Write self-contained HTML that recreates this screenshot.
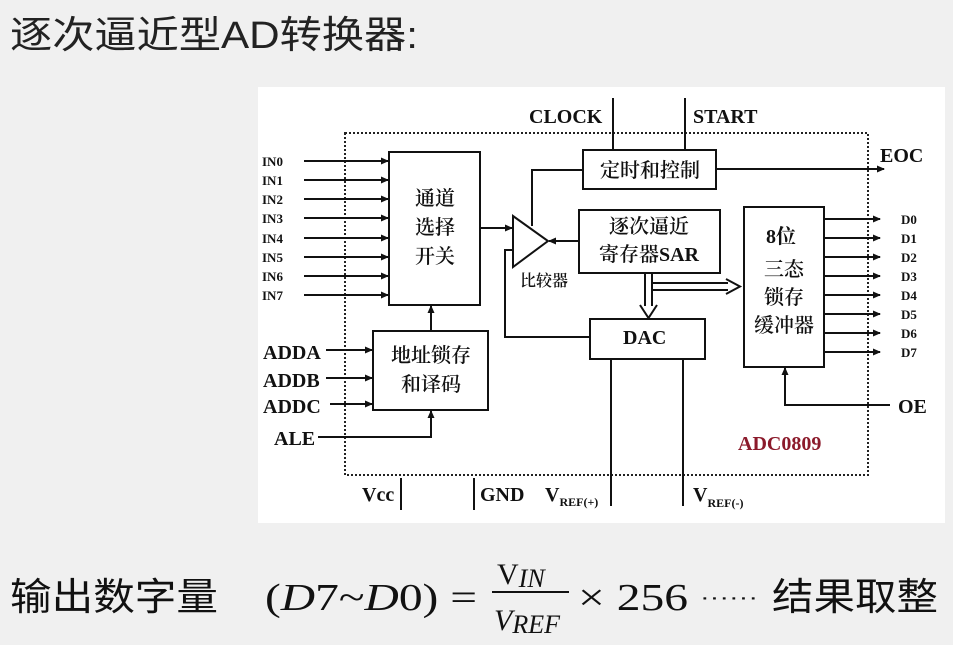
<!DOCTYPE html>
<html><head><meta charset="utf-8"><style>
html,body{margin:0;padding:0;background:#f0f0f0;}
svg{display:block;}
.s{font-family:"Liberation Serif","Noto Serif CJK SC",serif;font-weight:bold;fill:#111;}
.c{font-family:"Liberation Serif","Noto Serif CJK SC",serif;fill:#111;font-weight:600;}
</style></head><body>
<svg width="953" height="645" viewBox="0 0 953 645" xmlns="http://www.w3.org/2000/svg">
<defs>
<marker id="a" markerWidth="8" markerHeight="8" refX="7" refY="4" orient="auto" markerUnits="userSpaceOnUse"><path d="M0,0.5 L8,4 L0,7.5 Z" fill="#111"/></marker>
</defs>
<rect width="953" height="645" fill="#f0f0f0"/>
<text x="10" y="48" font-family="'Liberation Sans','Noto Sans CJK SC',sans-serif" font-size="38" fill="#222" textLength="408" lengthAdjust="spacingAndGlyphs">逐次逼近型AD转换器:</text>
<rect x="258" y="87" width="687" height="436" fill="#fff"/>
<rect x="345" y="133" width="523" height="342" fill="none" stroke="#222" stroke-width="2" stroke-dasharray="2,2"/>
<g stroke="#111" stroke-width="2" fill="none">
<line x1="304" y1="161" x2="388" y2="161" marker-end="url(#a)"/>
<line x1="304" y1="180" x2="388" y2="180" marker-end="url(#a)"/>
<line x1="304" y1="199" x2="388" y2="199" marker-end="url(#a)"/>
<line x1="304" y1="218" x2="388" y2="218" marker-end="url(#a)"/>
<line x1="304" y1="238" x2="388" y2="238" marker-end="url(#a)"/>
<line x1="304" y1="257" x2="388" y2="257" marker-end="url(#a)"/>
<line x1="304" y1="276" x2="388" y2="276" marker-end="url(#a)"/>
<line x1="304" y1="295" x2="388" y2="295" marker-end="url(#a)"/>
<rect x="389" y="152" width="91" height="153"/>
<line x1="480" y1="228" x2="512" y2="228" marker-end="url(#a)"/>
<polygon points="513,216 513,267 548,241"/>
<polyline points="532,226 532,170 583,170"/>
<line x1="579" y1="241" x2="549" y2="241" marker-end="url(#a)"/>
<polyline points="590,337 505,337 505,250 512,250" />
<rect x="583" y="150" width="133" height="39"/>
<line x1="613" y1="98" x2="613" y2="150"/>
<line x1="685" y1="98" x2="685" y2="150"/>
<line x1="716" y1="169" x2="884" y2="169" marker-end="url(#a)"/>
<rect x="579" y="210" width="141" height="63"/>
<rect x="590" y="319" width="115" height="40"/>
<rect x="744" y="207" width="80" height="160"/>
<line x1="824" y1="219" x2="880" y2="219" marker-end="url(#a)"/>
<line x1="824" y1="238" x2="880" y2="238" marker-end="url(#a)"/>
<line x1="824" y1="257" x2="880" y2="257" marker-end="url(#a)"/>
<line x1="824" y1="276" x2="880" y2="276" marker-end="url(#a)"/>
<line x1="824" y1="295" x2="880" y2="295" marker-end="url(#a)"/>
<line x1="824" y1="314" x2="880" y2="314" marker-end="url(#a)"/>
<line x1="824" y1="333" x2="880" y2="333" marker-end="url(#a)"/>
<line x1="824" y1="352" x2="880" y2="352" marker-end="url(#a)"/>
<polyline points="890,405 785,405 785,368" marker-end="url(#a)"/>
<line x1="611" y1="359" x2="611" y2="506"/>
<line x1="683" y1="359" x2="683" y2="506"/>
<rect x="373" y="331" width="115" height="79"/>
<line x1="431" y1="331" x2="431" y2="306" marker-end="url(#a)"/>
<line x1="326" y1="350" x2="372" y2="350" marker-end="url(#a)"/>
<line x1="326" y1="378" x2="372" y2="378" marker-end="url(#a)"/>
<line x1="330" y1="404" x2="372" y2="404" marker-end="url(#a)"/>
<polyline points="318,437 431,437 431,411" marker-end="url(#a)"/>
<line x1="401" y1="478" x2="401" y2="510"/>
<line x1="474" y1="478" x2="474" y2="510"/>
</g>
<g stroke="#111" stroke-width="2" fill="none">
<line x1="645" y1="273" x2="645" y2="306"/><line x1="652" y1="273" x2="652" y2="306"/>
<polyline points="640,305 648.5,318 657,305"/>
<line x1="652" y1="283" x2="728" y2="283"/><line x1="652" y1="290" x2="728" y2="290"/>
<polyline points="726,279 740,286.5 726,294"/>
</g>
<g class="s" font-size="13">
<text x="262" y="166">IN0</text><text x="262" y="185">IN1</text><text x="262" y="204">IN2</text><text x="262" y="223">IN3</text>
<text x="262" y="243">IN4</text><text x="262" y="262">IN5</text><text x="262" y="281">IN6</text><text x="262" y="300">IN7</text>
<text x="901" y="224">D0</text><text x="901" y="243">D1</text><text x="901" y="262">D2</text><text x="901" y="281">D3</text>
<text x="901" y="300">D4</text><text x="901" y="319">D5</text><text x="901" y="338">D6</text><text x="901" y="357">D7</text>
</g>
<g class="s" font-size="20">
<text x="529" y="123">CLOCK</text><text x="693" y="123">START</text>
<text x="880" y="162">EOC</text>
<text x="898" y="413">OE</text>
<text x="263" y="359">ADDA</text><text x="263" y="387">ADDB</text><text x="263" y="413">ADDC</text>
<text x="274" y="445">ALE</text>
<text x="623" y="344">DAC</text>
<text x="738" y="450" style="fill:#8b1a2b">ADC0809</text>
<text x="362" y="501">Vcc</text><text x="480" y="501">GND</text>
<text x="545" y="501">V<tspan font-size="12" dy="5">REF(+)</tspan></text>
<text x="693" y="501">V<tspan font-size="12" dy="6">REF(-)</tspan></text>
<text x="766" y="243">8位</text>
</g>
<g class="c" font-size="20" text-anchor="middle">
<text x="435" y="205">通道</text><text x="435" y="234">选择</text><text x="435" y="263">开关</text>
<text x="650" y="177">定时和控制</text>
<text x="649" y="233">逐次逼近</text>
<text x="649" y="261">寄存器<tspan font-weight="bold">SAR</tspan></text>
<text x="784" y="276">三态</text><text x="784" y="304">锁存</text><text x="784" y="332">缓冲器</text>
<text x="431" y="362">地址锁存</text><text x="431" y="391">和译码</text>
<text x="544" y="286" font-size="16">比较器</text>
</g>
<g font-size="38" fill="#111">
<text x="10" y="610" font-family="'Liberation Sans','Noto Sans CJK SC',sans-serif" textLength="208" lengthAdjust="spacingAndGlyphs">输出数字量</text>
<text x="265" y="610" font-family="'Liberation Serif',serif" textLength="212" lengthAdjust="spacingAndGlyphs">(<tspan font-style="italic">D</tspan>7~<tspan font-style="italic">D</tspan>0) =</text>
<text x="497" y="584" font-family="'Liberation Serif',serif" font-size="30">V<tspan font-style="italic" font-size="26" dy="3">IN</tspan></text>
<line x1="492" y1="592" x2="569" y2="592" stroke="#111" stroke-width="2"/>
<text x="494" y="630" font-family="'Liberation Serif',serif" font-size="30" font-style="italic">V<tspan font-size="26" dy="3">REF</tspan></text>
<text x="578" y="610" font-family="'Liberation Serif',serif" textLength="110" lengthAdjust="spacingAndGlyphs">× 256</text>
<text x="700" y="604" font-family="'Liberation Sans',sans-serif" font-size="20" textLength="58" lengthAdjust="spacingAndGlyphs">······</text>
<text x="772" y="610" font-family="'Liberation Sans','Noto Sans CJK SC',sans-serif" textLength="166" lengthAdjust="spacingAndGlyphs">结果取整</text>
</g>
</svg>
</body></html>
